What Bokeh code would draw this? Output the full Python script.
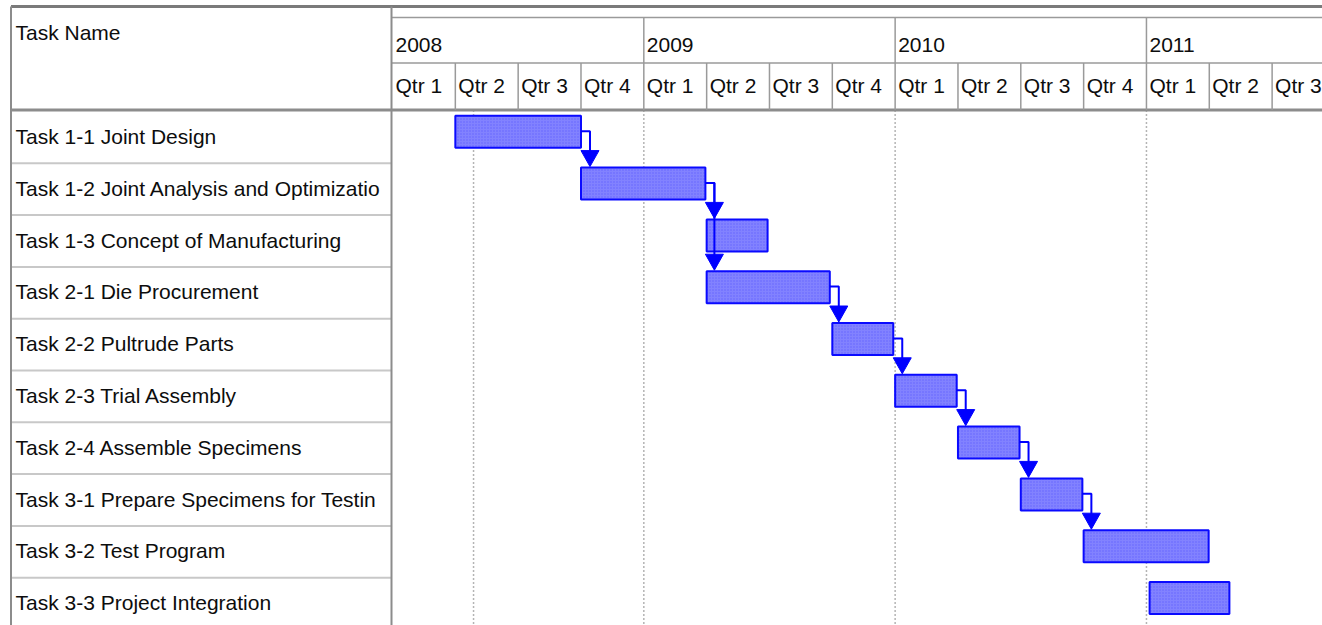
from bokeh.plotting import figure
from bokeh.models import Range1d, ColumnDataSource
from bokeh.core.properties import value
from bokeh.embed import file_html
from bokeh.resources import INLINE

# ---------------- data ----------------
tasks = [
    "Task 1-1 Joint Design",
    "Task 1-2 Joint Analysis and Optimizatio",
    "Task 1-3 Concept of Manufacturing",
    "Task 2-1 Die Procurement",
    "Task 2-2 Pultrude Parts",
    "Task 2-3 Trial Assembly",
    "Task 2-4 Assemble Specimens",
    "Task 3-1 Prepare Specimens for Testin",
    "Task 3-2 Test Program",
    "Task 3-3 Project Integration",
]
# start / finish expressed in quarters since the start of 2008 Qtr 1
start = [1.0, 3.0, 5.0, 5.0, 7.0, 8.0, 9.0, 10.0, 11.0, 12.05]
finish = [3.0, 4.98, 5.97, 6.96, 7.97, 8.98, 9.98, 10.98, 12.99, 13.32]
# finish-to-start links (row index of predecessor -> successor)
pred = [0, 1, 1, 3, 4, 5, 6, 7]
succ = [1, 2, 3, 4, 5, 6, 7, 8]
years = ["2008", "2009", "2010", "2011"]
quarter_names = ["Qtr 1", "Qtr 2", "Qtr 3", "Qtr 4"]
status_date = 1.29  # dashed marker line inside 2008 Qtr 2

# ---------------- layout ----------------
W, H = 1322, 625
PX0, PY0 = 0, 0            # page offset of the figure
QW = 62.83                 # pixels per quarter
XO = 392                   # page x of 2008 Qtr 1 start
RH = 51.8                  # pixels per task row
YO = 111                   # page y of first task row top


def qx(px):
    return (px - XO) / QW


def ry(py):
    return (py - YO) / RH


FONT = value("Liberation Sans")
FS = "21px"
TXT = "#0d0d0d"

p = figure(width=W, height=H,
           x_range=Range1d(qx(PX0), qx(PX0 + W)),
           y_range=Range1d(ry(PY0 + H), ry(PY0)),
           output_backend="svg", toolbar_location=None,
           x_axis_location=None, y_axis_location=None,
           min_border=0, outline_line_color=None,
           background_fill_color="white", border_fill_color="white")
p.grid.visible = False

x_left = qx(10.5)
x_col = qx(391)
x_right = qx(PX0 + W + 10)
y_top = ry(6)
y_tier = ry(17)
y_yr = ry(62.5)
y_hdr = ry(109.5)
y_bot = ry(PY0 + H + 10)

n_q = 15
q_bounds = list(range(0, n_q + 1))

# dashed vertical lines in the chart body (year boundaries + status date)
vlines = [status_date] + [4.0 * k for k in range(1, len(years))]
p.segment(x0=vlines, y0=[y_hdr] * len(vlines), x1=vlines, y1=[y_bot] * len(vlines),
          line_color="#b4b4b4", line_width=1.5, line_dash="2 2")

# row separators in the task name column
rows_sep = [k for k in range(1, len(tasks) + 1)]
p.segment(x0=[x_left] * len(rows_sep), y0=rows_sep, x1=[x_col] * len(rows_sep), y1=rows_sep,
          line_color="#c8c8c8", line_width=2)

# header lines
p.segment(x0=[x_left], y0=[y_top], x1=[x_right], y1=[y_top], line_color="#7a7a7a", line_width=3)
p.segment(x0=[x_col, x_col], y0=[y_tier, y_yr], x1=[x_right, x_right], y1=[y_tier, y_yr],
          line_color="#9a9a9a", line_width=1.5)
p.segment(x0=[x_left], y0=[y_hdr], x1=[x_right], y1=[y_hdr], line_color="#8c8c8c", line_width=3)
yb = [4.0 * k for k in range(1, len(years))]
p.segment(x0=yb, y0=[y_tier] * len(yb), x1=yb, y1=[y_yr] * len(yb), line_color="#9a9a9a", line_width=1.5)
qb = q_bounds[1:]
p.segment(x0=qb, y0=[y_yr] * len(qb), x1=qb, y1=[y_hdr] * len(qb), line_color="#9a9a9a", line_width=1.5)
p.segment(x0=[x_left, x_col], y0=[y_top, y_top], x1=[x_left, x_col], y1=[y_bot, y_bot],
          line_color="#8c8c8c", line_width=2)

# header texts
p.text(x=[qx(15)], y=[ry(32)], text=["Task Name"], text_font=FONT, text_font_size=FS,
       text_color=TXT, text_baseline="alphabetic")
p.text(x=[4.0 * k + 3 / QW for k in range(len(years))], y=[ry(44)] * len(years), text=years,
       text_font=FONT, text_font_size=FS, text_color=TXT, text_baseline="alphabetic")
ql = [quarter_names[k % 4] for k in range(n_q)]
p.text(x=[k + 3 / QW for k in range(n_q)], y=[ry(85)] * n_q, text=ql,
       text_font=FONT, text_font_size=FS, text_color=TXT, text_baseline="alphabetic")

# task names
rows = list(range(len(tasks)))
p.text(x=[qx(15)] * len(tasks), y=[r + 25 / RH for r in rows], text=tasks,
       text_font=FONT, text_font_size=FS, text_color=TXT, text_baseline="alphabetic")

# bars
bt = 4.3 / RH
bb = 36.3 / RH
src = ColumnDataSource(dict(left=start, right=finish,
                            top=[r + bt for r in rows], bottom=[r + bb for r in rows]))
p.quad(left="left", right="right", top="top", bottom="bottom", source=src,
       fill_color="#8282ff", line_color="#0a0aff", line_width=2,
       hatch_pattern="dot", hatch_color="#3c3cff", hatch_alpha=0.45, hatch_scale=3, hatch_weight=1)

# dependency links
cy = 19.7 / RH
cxo = 9 / QW
ah = 16 / RH
ahw = 9 / QW
xs_l, ys_l, xs_t, ys_t = [], [], [], []
for a, b in zip(pred, succ):
    xe = finish[a]
    xc = xe + cxo
    yh = a + cy
    tip = b + bt - 1 / RH
    base = tip - ah
    xs_l.append([xe, xc, xc])
    ys_l.append([yh, yh, base + 0.02])
    xs_t.append([xc - ahw, xc + ahw, xc])
    ys_t.append([base, base, tip])
p.multi_line(xs=xs_l, ys=ys_l, line_color="#0000ff", line_width=2)
p.patches(xs=xs_t, ys=ys_t, fill_color="#0000ff", line_color="#0000ff", line_width=1)

open("out.html", "w").write(file_html(p, INLINE))
